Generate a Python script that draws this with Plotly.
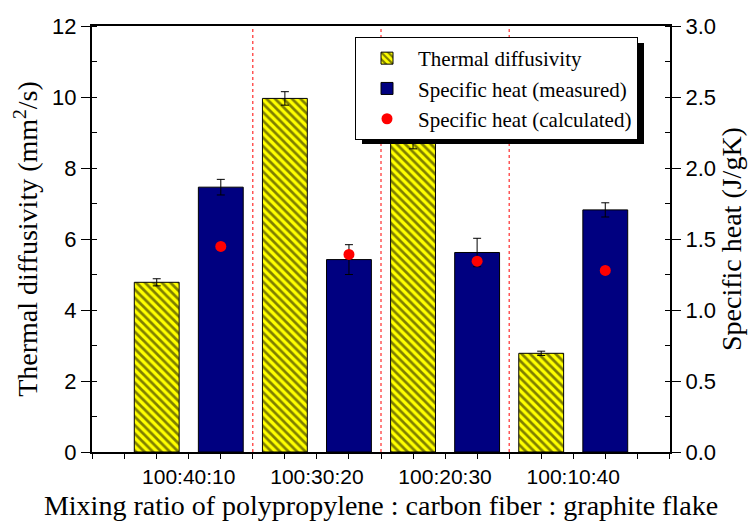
import plotly.graph_objects as go

categories = ["100:40:10", "100:30:20", "100:20:30", "100:10:40"]
thermal_diffusivity = [4.78, 9.96, 8.72, 2.78]
thermal_diffusivity_err = [0.10, 0.19, 0.18, 0.06]
specific_heat_measured = [1.865, 1.355, 1.405, 1.705]
specific_heat_measured_err = [0.055, 0.105, 0.10, 0.05]
specific_heat_calculated = [1.448, 1.391, 1.344, 1.279]

x_pos = list(range(len(categories)))

SERIF = "Liberation Serif, Times New Roman, serif"
SANS = "Liberation Sans, Arial, sans-serif"

# plot area in pixels
PL, PR, PT, PB = 92, 670, 26, 452
PW, PH = PR - PL, PB - PT

fig = go.Figure()
fig.add_trace(go.Bar(
    x=x_pos, y=thermal_diffusivity, name="Thermal diffusivity",
    offset=-0.425, width=0.35,
    marker=dict(color="#FFFF00", line=dict(color="black", width=1),
                pattern=dict(shape="\\", fgcolor="black", bgcolor="#FFFF00", size=6, solidity=0.45)),
    error_y=dict(type="data", array=thermal_diffusivity_err, color="black", thickness=1, width=4),
    yaxis="y",
))
fig.add_trace(go.Bar(
    x=x_pos, y=specific_heat_measured, name="Specific heat (measured)",
    offset=0.075, width=0.35,
    marker=dict(color="#000080", line=dict(color="black", width=1)),
    error_y=dict(type="data", array=specific_heat_measured_err, color="black", thickness=1, width=4),
    yaxis="y2",
))
fig.add_trace(go.Scatter(
    x=[p + 0.25 for p in x_pos], y=specific_heat_calculated, name="Specific heat (calculated)",
    mode="markers", marker=dict(color="red", size=11),
    yaxis="y2",
))

shapes = []
for i in range(len(categories) - 1):
    shapes.append(dict(type="line", xref="x", yref="paper", x0=i + 0.5, x1=i + 0.5, y0=0, y1=1,
                       line=dict(color="red", width=1, dash="dot"), layer="below"))

# legend box (approx) and its shadow
LG_L, LG_T, LG_W, LG_H = 355, 37, 282, 101
shapes.append(dict(type="rect", xref="paper", yref="paper",
                   x0=(LG_L + 7 - PL) / PW, x1=(LG_L + LG_W + 7 - PL) / PW,
                   y0=(PB - (LG_T + LG_H + 6)) / PH, y1=(PB - (LG_T + 6)) / PH,
                   fillcolor="black", line=dict(width=0), layer="above"))

fig.update_layout(
    width=752, height=526,
    margin=dict(l=PL, r=752 - PR, t=PT, b=526 - PB, autoexpand=False),
    paper_bgcolor="white", plot_bgcolor="white",
    barmode="overlay",
    showlegend=True,
    legend=dict(x=(LG_L - PL) / PW, y=(PB - LG_T) / PH, xanchor="left", yanchor="top",
                bgcolor="white", bordercolor="black", borderwidth=1,
                font=dict(family=SERIF, size=21, color="black"),
                tracegroupgap=0, itemwidth=52),
    xaxis=dict(
        range=[-0.755, 3.755], tickmode="array", tickvals=x_pos, ticktext=categories,
        showline=True, linecolor="black", linewidth=2, mirror=True,
        ticks="outside", ticklen=5, tickcolor="black", tickwidth=1,
        minor=dict(dtick=0.25, tick0=0, ticks="outside", ticklen=5, tickcolor="black"),
        tickfont=dict(family=SANS, size=21, color="black"),
        title=dict(text="Mixing ratio of polypropylene : carbon fiber : graphite flake",
                   font=dict(family=SERIF, size=28, color="black"), standoff=8),
        showgrid=False, zeroline=False, automargin=False,
    ),
    yaxis=dict(
        range=[0, 12], dtick=2, tick0=0,
        showline=True, linecolor="black", linewidth=2,
        ticks="outside", ticklen=9, tickcolor="black", tickwidth=1,
        minor=dict(dtick=1, ticks="inside", ticklen=5, tickcolor="black"),
        tickfont=dict(family=SANS, size=22, color="black"),
        title=dict(text="Thermal diffusivity (mm<sup>2</sup>/s)",
                   font=dict(family=SERIF, size=28, color="black"), standoff=6),
        showgrid=False, zeroline=False, automargin=False,
    ),
    yaxis2=dict(
        range=[0, 3], dtick=0.5, tick0=0, tickformat=".1f",
        overlaying="y", side="right",
        showline=True, linecolor="black", linewidth=2,
        ticks="outside", ticklen=9, tickcolor="black", tickwidth=1,
        minor=dict(dtick=0.25, ticks="inside", ticklen=5, tickcolor="black"),
        tickfont=dict(family=SANS, size=22, color="black"),
        title=dict(text="Specific heat (J/gK)",
                   font=dict(family=SERIF, size=28, color="black"), standoff=6),
        showgrid=False, zeroline=False, automargin=False,
    ),
    shapes=shapes,
)

fig.write_html("out.html", config={"displayModeBar": False},
               post_script="document.body.style.margin='0';")
